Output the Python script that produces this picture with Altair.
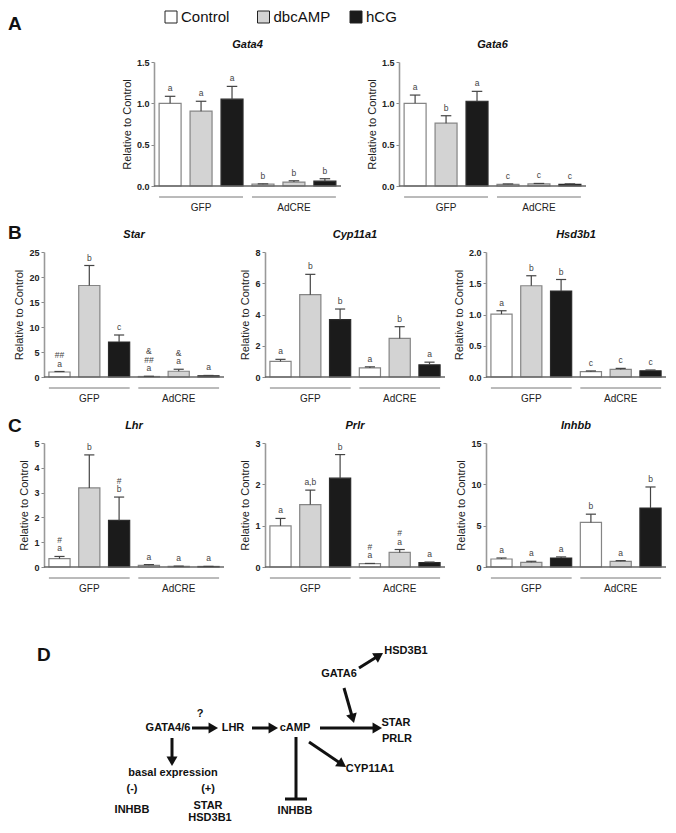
import altair as alt
import pandas as pd

FONT = "Liberation Sans, Arial, Helvetica, sans-serif"

treatments = ["Control", "dbcAMP", "hCG"]
groups = ["GFP", "AdCRE"]
fill_colors = ["#ffffff", "#d3d3d3", "#1b1b1b"]
stroke_colors = ["#858585", "#858585", "#2b2b2b"]

# order: GFP-Control, GFP-dbcAMP, GFP-hCG, AdCRE-Control, AdCRE-dbcAMP, AdCRE-hCG
gata4_values = [1.00, 0.905, 1.05, 0.022, 0.048, 0.058]
gata4_errors = [0.085, 0.12, 0.155, 0.004, 0.015, 0.03]
gata4_labels = ["a", "a", "a", "b", "b", "b"]
gata4_ticks = [0.0, 0.5, 1.0, 1.5]

gata6_values = [1.00, 0.76, 1.025, 0.02, 0.025, 0.02]
gata6_errors = [0.1, 0.09, 0.12, 0.005, 0.006, 0.006]
gata6_labels = ["a", "b", "a", "c", "c", "c"]
gata6_ticks = [0.0, 0.5, 1.0, 1.5]

star_values = [1.0, 18.3, 7.0, 0.1, 1.15, 0.25]
star_errors = [0.1, 4.0, 1.4, 0.05, 0.4, 0.06]
star_labels = ["##\na", "b", "c", "&\n##\na", "&\na", "a"]
star_ticks = [0, 5, 10, 15, 20, 25]

cyp_values = [1.0, 5.27, 3.67, 0.58, 2.47, 0.78]
cyp_errors = [0.13, 1.3, 0.68, 0.07, 0.75, 0.17]
cyp_labels = ["a", "b", "b", "a", "b", "a"]
cyp_ticks = [0, 2, 4, 6, 8]

hsd_values = [1.005, 1.46, 1.375, 0.085, 0.122, 0.1]
hsd_errors = [0.055, 0.16, 0.185, 0.012, 0.016, 0.012]
hsd_labels = ["a", "b", "b", "c", "c", "c"]
hsd_ticks = [0.0, 0.5, 1.0, 1.5, 2.0]

lhr_values = [0.335, 3.19, 1.88, 0.067, 0.03, 0.02]
lhr_errors = [0.09, 1.33, 0.94, 0.03, 0.006, 0.006]
lhr_labels = ["#\na", "b", "#\nb", "a", "a", "a"]
lhr_ticks = [0, 1, 2, 3, 4, 5]

prlr_values = [0.995, 1.51, 2.15, 0.08, 0.353, 0.104]
prlr_errors = [0.18, 0.35, 0.57, 0.006, 0.07, 0.016]
prlr_labels = ["a", "a,b", "b", "#\na", "#\na", "a"]
prlr_ticks = [0, 1, 2, 3]

inhbb_values = [0.97, 0.57, 1.09, 5.39, 0.69, 7.13]
inhbb_errors = [0.12, 0.12, 0.13, 1.0, 0.08, 2.55]
inhbb_labels = ["a", "a", "a", "b", "a", "b"]
inhbb_ticks = [0, 5, 10, 15]

# Panel D diagram (text nodes and arrows)
diag_labels = ["GATA4/6", "?", "LHR", "cAMP", "STAR", "PRLR", "GATA6", "HSD3B1",
               "CYP11A1", "INHBB", "basal expression", "(-)", "(+)", "INHBB",
               "STAR", "HSD3B1"]
diag_x = [161, 193, 226, 288, 389, 390, 332, 399, 363, 288, 166, 125, 201, 125, 201, 203]
diag_y = [737, 723, 737, 737, 732, 748, 683, 660, 778, 820, 782, 798, 798, 819, 815, 827]
arrow_x1 = [185, 245, 313, 352, 337, 302, 165]
arrow_y1 = [737, 737, 737, 677, 697, 751, 747]
arrow_x2 = [211, 271, 375, 376, 347, 339, 165]
arrow_y2 = [737, 737, 737, 662, 732, 776, 775]
line_x1 = [289, 278]
line_y1 = [746, 808]
line_x2 = [289, 300]
line_y2 = [808, 808]

XDOM = [-0.52, 5.52]
HALF = 0.355
CAP = 0.17
LINE_H = 8.5
W = 180


def panel(name, values, errors, labels, ticks, fmt, height, shift=0, plot_w=W,
          letter=None, letter_y=-13, extra=None):
    df = pd.DataFrame({
        "pos": list(range(6)),
        "group": [g for g in groups for _ in treatments],
        "treat": treatments * 2,
        "value": values,
        "err": errors,
    })
    rows = []
    for i, lab in enumerate(labels):
        for k, line in enumerate(lab.split("\n")[::-1]):
            rows.append({"pos": i, "top": values[i] + errors[i], "k": k, "txt": line})
    sdf = pd.DataFrame(rows)
    ymax = ticks[-1]
    k_px = plot_w / (XDOM[1] - XDOM[0])
    d0 = XDOM[0] - shift / k_px
    d1 = d0 + W / k_px
    xs = alt.Scale(domain=[d0, d1], nice=False, zero=False)
    ys = alt.Scale(domain=[ticks[0], ymax], nice=False)
    base = alt.Chart(df).transform_calculate(
        x0=f"datum.pos - {HALF}", x1=f"datum.pos + {HALF}",
        c0=f"datum.pos - {CAP}", c1=f"datum.pos + {CAP}",
        top="datum.value + datum.err", zero="0")
    bars = base.mark_rect(strokeWidth=1.2).encode(
        x=alt.X("x0:Q", scale=xs, axis=None),
        x2="x1:Q",
        y=alt.Y("value:Q", scale=ys, axis=alt.Axis(
            values=ticks, tickCount=len(ticks) + 2, format=fmt, title="Relative to Control",
            grid=False, labelOverlap=False, offset=-shift, tickSize=3, tickColor="#888",
            domainColor="#999", domainWidth=1.6,
            labelFont=FONT, labelFontSize=9, labelFontWeight="bold", labelColor="#222",
            labelPadding=2, titleFont=FONT, titleFontSize=11, titleFontWeight="normal",
            titleColor="#222", titlePadding=4)),
        y2="zero:Q",
        fill=alt.Fill("treat:N", scale=alt.Scale(domain=treatments, range=fill_colors), legend=None),
        stroke=alt.Stroke("treat:N", scale=alt.Scale(domain=treatments, range=stroke_colors), legend=None),
    )
    err_line = base.mark_rule(color="#444", strokeWidth=1.2).encode(
        x=alt.X("pos:Q", scale=xs), y=alt.Y("value:Q", scale=ys), y2="top:Q")
    err_cap = base.mark_rule(color="#444", strokeWidth=1.2).encode(
        x=alt.X("c0:Q", scale=xs), x2="c1:Q", y=alt.Y("top:Q", scale=ys))
    sig = alt.Chart(sdf).transform_calculate(
        ylab=f"datum.top + datum.k * {LINE_H} * {ymax} / {height}"
    ).mark_text(baseline="bottom", dy=-3, font=FONT, fontSize=8.5, color="#444").encode(
        x=alt.X("pos:Q", scale=xs), y=alt.Y("ylab:Q", scale=ys), text="txt:N")
    tdf = pd.DataFrame({"b0": [XDOM[0]], "b1": [XDOM[1]], "base0": [0.0],
                        "mid": [sum(XDOM) / 2], "name": [name]})
    baseline = alt.Chart(tdf).mark_rule(color="#666", strokeWidth=1.5).encode(
        x=alt.X("b0:Q", scale=xs), x2="b1:Q", y=alt.Y("base0:Q", scale=ys))
    gdf = pd.DataFrame({"group": groups, "first": [0, 3], "last": [2, 5]})
    gbase = alt.Chart(gdf).transform_calculate(
        gs=f"datum.first - {HALF}", ge=f"datum.last + {HALF}",
        gm="(datum.first + datum.last) / 2")
    glines = gbase.mark_rule(color="#777", strokeWidth=1).encode(
        x=alt.X("gs:Q", scale=xs), x2="ge:Q", y=alt.value(height + 11))
    gtext = gbase.mark_text(font=FONT, fontSize=10, color="#222", baseline="middle").encode(
        x=alt.X("gm:Q", scale=xs), y=alt.value(height + 22), text="group:N")
    title = alt.Chart(tdf).mark_text(
        font=FONT, fontSize=11, fontStyle="italic", fontWeight="bold",
        color="#111", baseline="alphabetic").encode(
        x=alt.X("mid:Q", scale=xs), y=alt.value(-14), text="name:N")
    layers = [bars, baseline, err_line, err_cap, sig, glines, gtext, title]
    one = pd.DataFrame({"k": [0]})
    if letter is not None:
        layers.append(alt.Chart(one).mark_text(
            text=letter, align="left", baseline="alphabetic", font=FONT, fontSize=19,
            fontWeight="bold", color="#111").encode(x=alt.value(-36), y=alt.value(letter_y)))
    if extra:
        layers.extend(extra)
    return alt.layer(*layers).properties(width=W, height=height)


one = pd.DataFrame({"k": [0]})
# invisible rect fixing the top extent of the figure, and panel letter A (above Gata4)
frame_top = alt.Chart(one).mark_rect(opacity=0).encode(
    x=alt.value(0), x2=alt.value(2), y=alt.value(-54), y2=alt.value(0))
letter_a = alt.Chart(one).mark_text(
    text="A", align="left", baseline="alphabetic", font=FONT, fontSize=19,
    fontWeight="bold", color="#111").encode(x=alt.value(-36), y=alt.value(-32))

gata4 = panel("Gata4", gata4_values, gata4_errors, gata4_labels, gata4_ticks, ".1f", 124,
              shift=110, plot_w=187, extra=[frame_top, letter_a])
gata6 = panel("Gata6", gata6_values, gata6_errors, gata6_labels, gata6_ticks, ".1f", 124,
              shift=134, plot_w=187)

# Legend, drawn from the empty third cell of row A (its origin is 442 px right of Gata4's cell)
ldf = pd.DataFrame({"treat": treatments})
lx = alt.X("treat:N", scale=alt.Scale(type="point", domain=treatments,
                                      range=[127 - 442, 312 - 442], padding=0), axis=None)
leg_sq = alt.Chart(ldf).mark_square(size=144, opacity=1, stroke="#222", strokeWidth=1).encode(
    x=lx, y=alt.value(-45),
    fill=alt.Fill("treat:N", scale=alt.Scale(domain=treatments, range=fill_colors), legend=None))
leg_tx = alt.Chart(ldf).mark_text(align="left", dx=10, baseline="middle", font=FONT,
                                  fontSize=15, color="#111").encode(
    x=lx, y=alt.value(-45), text="treat:N")
legend_cell = alt.layer(leg_sq, leg_tx).properties(width=W, height=124)

star = panel("Star", star_values, star_errors, star_labels, star_ticks, "d", 125,
             letter="B", letter_y=-13)
cyp = panel("Cyp11a1", cyp_values, cyp_errors, cyp_labels, cyp_ticks, "d", 125)
hsd = panel("Hsd3b1", hsd_values, hsd_errors, hsd_labels, hsd_ticks, ".1f", 125)

lhr = panel("Lhr", lhr_values, lhr_errors, lhr_labels, lhr_ticks, "d", 124,
            letter="C", letter_y=-11)
prlr = panel("Prlr", prlr_values, prlr_errors, prlr_labels, prlr_ticks, "d", 124)
inhbb = panel("Inhbb", inhbb_values, inhbb_errors, inhbb_labels, inhbb_ticks, "d", 124)

# Panel D diagram (1 data unit = 1 px; view 180 wide, content overflows to the right)
DH = 190
dxs = alt.Scale(domain=[37, 37 + W], nice=False, zero=False)
dys = alt.Scale(domain=[642, 642 + DH], nice=False, zero=False, reverse=True)
node_df = pd.DataFrame({"label": diag_labels, "x": diag_x, "y": diag_y})
nodes = alt.Chart(node_df).mark_text(font=FONT, fontSize=11, fontWeight="bold",
                                     color="#111", baseline="middle").encode(
    x=alt.X("x:Q", scale=dxs, axis=None), y=alt.Y("y:Q", scale=dys, axis=None),
    text="label:N")
arrow_df = pd.DataFrame({"x1": arrow_x1, "y1": arrow_y1, "x2": arrow_x2, "y2": arrow_y2})
abase = alt.Chart(arrow_df).transform_calculate(
    L="sqrt(pow(datum.x2 - datum.x1, 2) + pow(datum.y2 - datum.y1, 2))"
).transform_calculate(
    ex="datum.x2 - 4.7 * (datum.x2 - datum.x1) / datum.L",
    ey="datum.y2 - 4.7 * (datum.y2 - datum.y1) / datum.L",
    ang="(atan2(datum.x2 - datum.x1, datum.y1 - datum.y2) * 180 / PI + 360) % 360")
shafts = abase.mark_rule(strokeWidth=3, color="#111").encode(
    x=alt.X("x1:Q", scale=dxs, axis=None), y=alt.Y("y1:Q", scale=dys, axis=None),
    x2="ex:Q", y2="ey:Q")
heads = abase.mark_point(shape="triangle-up", filled=True, size=120, color="#111",
                         opacity=1).encode(
    x=alt.X("ex:Q", scale=dxs, axis=None), y=alt.Y("ey:Q", scale=dys, axis=None),
    angle=alt.Angle("ang:Q", scale=None))
line_df = pd.DataFrame({"x1": line_x1, "y1": line_y1, "x2": line_x2, "y2": line_y2})
tlines = alt.Chart(line_df).mark_rule(strokeWidth=3, color="#111").encode(
    x=alt.X("x1:Q", scale=dxs, axis=None), y=alt.Y("y1:Q", scale=dys, axis=None),
    x2="x2:Q", y2="y2:Q")
dletter_df = pd.DataFrame({"label": ["D"], "x": [30], "y": [670]})
dletter = alt.Chart(dletter_df).mark_text(align="left", baseline="alphabetic", font=FONT,
                                          fontSize=19, fontWeight="bold", color="#111").encode(
    x=alt.X("x:Q", scale=dxs, axis=None), y=alt.Y("y:Q", scale=dys, axis=None),
    text="label:N")
diagram = alt.layer(shafts, heads, tlines, nodes, dletter).properties(width=W, height=DH)

cells = [gata4, gata6, legend_cell,
         star, cyp, hsd,
         lhr, prlr, inhbb,
         diagram]

chart = alt.concat(*cells, columns=3, align="each", bounds="flush",
                   spacing={"row": 66, "column": 41}).properties(
    padding=0
).configure_view(stroke=None)

chart.save("out.html", embed_options={"renderer": "svg", "actions": False})
